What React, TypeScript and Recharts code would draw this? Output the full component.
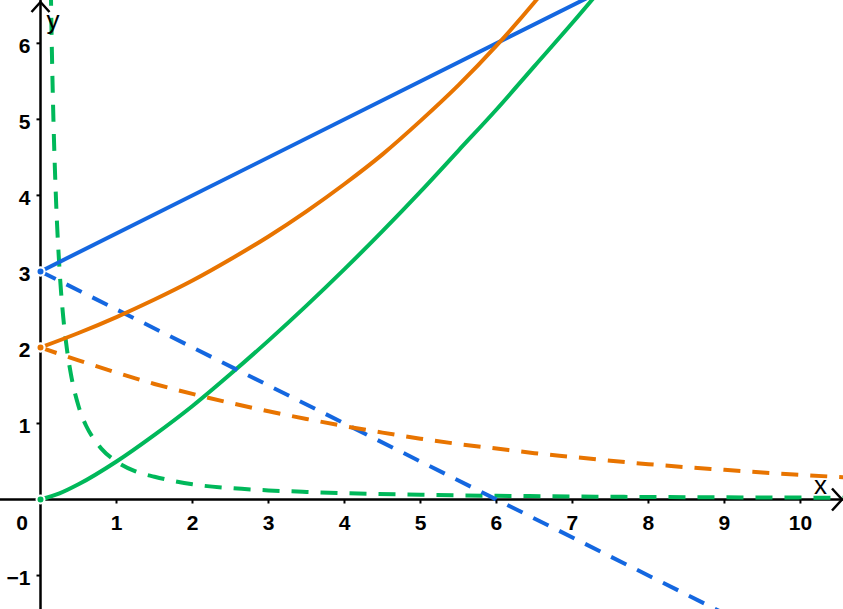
import React from 'react'
import { LineChart, Line, XAxis, YAxis, ReferenceLine, ReferenceDot } from 'recharts'

// values
const blueUp = [
  { x: 0, y: 3 },
  { x: 8, y: 7 },
]
const blueDown = [
  { x: 0, y: 3 },
  { x: 10, y: -2 },
]
const orangeUp = [
  { x: 0, y: 2 }, { x: 0.5, y: 2.19 }, { x: 1, y: 2.4 }, { x: 1.5, y: 2.63 },
  { x: 2, y: 2.88 }, { x: 2.5, y: 3.16 }, { x: 3, y: 3.46 }, { x: 3.5, y: 3.79 },
  { x: 4, y: 4.15 }, { x: 4.5, y: 4.54 }, { x: 5, y: 4.98 }, { x: 5.5, y: 5.45 },
  { x: 6, y: 5.97 }, { x: 6.5, y: 6.54 }, { x: 7, y: 7.17 },
]
const orangeDown = [
  { x: 0, y: 2 }, { x: 0.5, y: 1.83 }, { x: 1, y: 1.67 }, { x: 1.5, y: 1.52 },
  { x: 2, y: 1.39 }, { x: 2.5, y: 1.27 }, { x: 3, y: 1.16 }, { x: 3.5, y: 1.06 },
  { x: 4, y: 0.965 }, { x: 4.5, y: 0.88 }, { x: 5, y: 0.8 }, { x: 5.5, y: 0.73 },
  { x: 6, y: 0.67 }, { x: 6.5, y: 0.61 }, { x: 7, y: 0.56 }, { x: 7.5, y: 0.51 },
  { x: 8, y: 0.465 }, { x: 8.5, y: 0.425 }, { x: 9, y: 0.39 }, { x: 9.5, y: 0.355 },
  { x: 10, y: 0.325 }, { x: 10.6, y: 0.29 },
]
const greenUp = [
  { x: 0, y: 0 }, { x: 0.25, y: 0.08 }, { x: 0.5, y: 0.2 }, { x: 1, y: 0.5 },
  { x: 1.5, y: 0.85 }, { x: 2, y: 1.23 }, { x: 2.5, y: 1.65 }, { x: 3, y: 2.09 },
  { x: 3.5, y: 2.55 }, { x: 4, y: 3.03 }, { x: 4.5, y: 3.53 }, { x: 5, y: 4.05 },
  { x: 5.5, y: 4.59 }, { x: 6, y: 5.13 }, { x: 6.5, y: 5.7 }, { x: 7, y: 6.27 },
  { x: 7.5, y: 6.86 },
]
const greenDown = [
  { x: 0.13, y: 7.1 }, { x: 0.15, y: 5.89 }, { x: 0.17, y: 5.0 }, { x: 0.2, y: 4.05 },
  { x: 0.25, y: 3.03 }, { x: 0.3, y: 2.39 }, { x: 0.35, y: 1.96 }, { x: 0.4, y: 1.65 },
  { x: 0.5, y: 1.23 }, { x: 0.6, y: 0.97 }, { x: 0.7, y: 0.8 }, { x: 0.8, y: 0.67 },
  { x: 1, y: 0.5 }, { x: 1.25, y: 0.37 }, { x: 1.5, y: 0.3 }, { x: 2, y: 0.2 },
  { x: 2.5, y: 0.15 }, { x: 3, y: 0.12 }, { x: 3.5, y: 0.1 }, { x: 4, y: 0.083 },
  { x: 5, y: 0.062 }, { x: 6, y: 0.049 }, { x: 7, y: 0.04 }, { x: 8, y: 0.033 },
  { x: 9, y: 0.029 }, { x: 10, y: 0.025 }, { x: 10.6, y: 0.023 },
]
const xTicks = [1, 2, 3, 4, 5, 6, 7, 8, 9, 10]
const yTicks = [-1, 1, 2, 3, 4, 5, 6]

const X_MIN = -0.533
const X_MAX = 10.56
const Y_MIN = -1.44
const Y_MAX = 6.57

const BLUE = '#1467e0'
const ORANGE = '#e87400'
const GREEN = '#00b85a'
const FONT = '"Liberation Sans", Arial, sans-serif'
const DASH = '17 12'

const fmt = (v: number) => (v < 0 ? `\u2212${Math.abs(v)}` : `${v}`)

const XTick = ({ cx, cy, value }: any) => (
  <g>
    <line x1={cx} y1={cy} x2={cx} y2={cy + 4} stroke="#000" strokeWidth={2} />
    <text x={cx} y={cy + 30} textAnchor="middle" fontSize={21} fontWeight="bold" fontFamily={FONT} fill="#000">
      {fmt(value)}
    </text>
  </g>
)

const YTick = ({ cx, cy, value }: any) => (
  <g>
    <line x1={cx} y1={cy} x2={cx - 4} y2={cy} stroke="#000" strokeWidth={2} />
    <text x={cx - 10} y={cy + 9.5} textAnchor="end" fontSize={21} fontWeight="bold" fontFamily={FONT} fill="#000">
      {fmt(value)}
    </text>
  </g>
)

const XArrow = ({ cx, cy }: any) => (
  <g>
    <path d={`M${cx - 11},${cy - 11} L${cx - 1},${cy} L${cx - 11},${cy + 11}`} fill="none" stroke="#000" strokeWidth={2.5} />
    <text x={cx - 29} y={cy - 6} fontSize={26} fontFamily={FONT} fill="#000">x</text>
  </g>
)

const YArrow = ({ cx, cy }: any) => (
  <g>
    <path d={`M${cx - 9},${cy + 12} L${cx},${cy + 2} L${cx + 9},${cy + 12}`} fill="none" stroke="#000" strokeWidth={2.5} />
    <text x={cx + 6} y={cy + 29} fontSize={26} fontFamily={FONT} fill="#000">y</text>
  </g>
)

const OriginLabel = ({ cx, cy }: any) => (
  <text x={cx - 18.5} y={cy + 30} textAnchor="middle" fontSize={21} fontWeight="bold" fontFamily={FONT} fill="#000">
    0
  </text>
)

export default function App() {
  return (
    <div style={{ position: 'absolute', left: 0, top: 0, background: '#fff' }}>
      <LineChart width={843} height={609} margin={{ top: 0, right: 0, bottom: 0, left: 0 }}>
        <XAxis type="number" dataKey="x" domain={[X_MIN, X_MAX]} allowDataOverflow hide />
        <YAxis type="number" dataKey="y" domain={[Y_MIN, Y_MAX]} allowDataOverflow hide />
        <ReferenceLine x={0} stroke="#000" strokeWidth={2.5} />
        <ReferenceLine y={0} stroke="#000" strokeWidth={2.5} />
        {xTicks.map(t => (
          <ReferenceDot key={`xt${t}`} x={t} y={0} ifOverflow="visible" shape={(p: any) => <XTick {...p} value={t} />} />
        ))}
        {yTicks.map(t => (
          <ReferenceDot key={`yt${t}`} x={0} y={t} ifOverflow="visible" shape={(p: any) => <YTick {...p} value={t} />} />
        ))}
        <ReferenceDot x={0} y={0} ifOverflow="visible" shape={(p: any) => <OriginLabel {...p} />} />
        <ReferenceDot x={X_MAX} y={0} ifOverflow="visible" shape={(p: any) => <XArrow {...p} />} />
        <ReferenceDot x={0} y={Y_MAX} ifOverflow="visible" shape={(p: any) => <YArrow {...p} />} />

        <Line data={greenDown} dataKey="y" type="monotone" stroke={GREEN} strokeWidth={4} strokeDasharray={DASH} dot={false} isAnimationActive={false} />
        <Line data={greenUp} dataKey="y" type="monotone" stroke={GREEN} strokeWidth={4} dot={false} isAnimationActive={false} />
        <Line data={blueDown} dataKey="y" type="linear" stroke={BLUE} strokeWidth={4} strokeDasharray={DASH} dot={false} isAnimationActive={false} />
        <Line data={blueUp} dataKey="y" type="linear" stroke={BLUE} strokeWidth={4} dot={false} isAnimationActive={false} />
        <Line data={orangeDown} dataKey="y" type="monotone" stroke={ORANGE} strokeWidth={4} strokeDasharray={DASH} dot={false} isAnimationActive={false} />
        <Line data={orangeUp} dataKey="y" type="monotone" stroke={ORANGE} strokeWidth={4} dot={false} isAnimationActive={false} />
      </LineChart>
    </div>
  )
}
